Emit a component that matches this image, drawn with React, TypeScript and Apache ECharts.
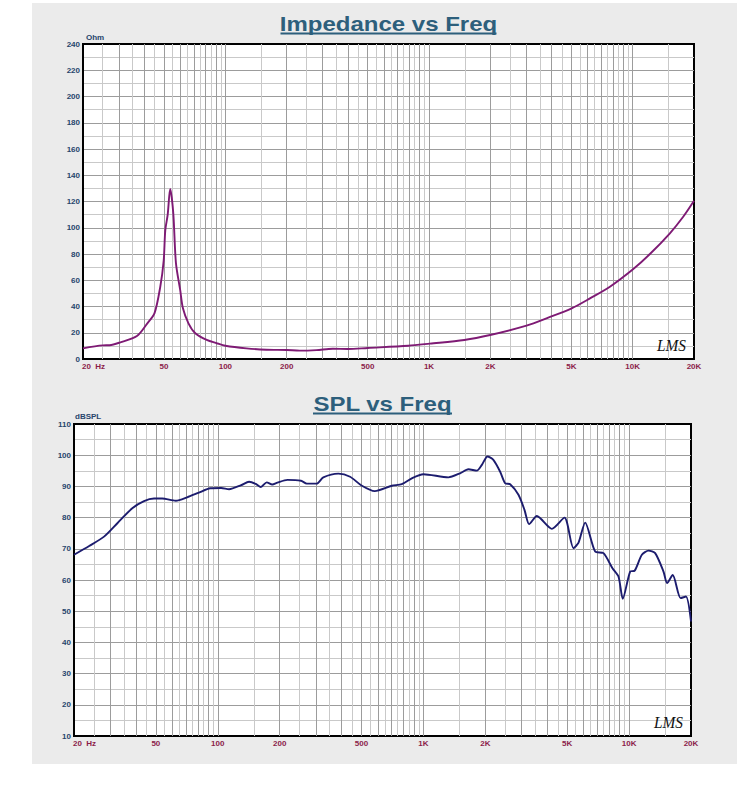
import React, { useEffect, useRef } from 'react';
import * as echarts from 'echarts';

// ---------- data ----------
const IMP_FREQ = [20, 25, 27, 30.5, 36.8, 41.3, 44.9, 47.9, 49.8, 50.7, 52.1, 53.6, 55.5, 57.2, 60, 61.9, 65.9, 71.2, 81, 90.8, 100, 127, 159, 200, 232, 280, 337, 400, 500, 792, 1008, 1490, 1995, 3010, 3850, 5015, 6170, 7730, 10070, 12150, 15230, 17700, 20000];
const IMP_OHM = [8.1, 10.4, 10.5, 12.7, 17.5, 27, 35, 55, 75, 98, 110, 129.5, 111, 73, 52.6, 38.6, 27.2, 19.6, 14.5, 12, 10.1, 8.1, 7.1, 6.9, 6.4, 6.8, 7.8, 7.6, 8.4, 10.1, 11.7, 14.5, 18.3, 25.4, 31.5, 38.6, 46.2, 55.1, 68.6, 80, 95.8, 108.4, 120.6];

const SPL_FREQ = [20, 23.7, 28, 32.5, 38.4, 43.8, 49, 53.7, 62.5, 71, 81, 92, 104, 113.5, 130, 142, 153, 162, 173, 184, 195, 218, 254, 271, 303, 326, 386, 440, 500, 580, 702, 785, 878, 1000, 1323, 1507, 1655, 1819, 1924, 2048, 2188, 2361, 2496, 2641, 2898, 3100, 3267, 3561, 4213, 4850, 5366, 5680, 6116, 6841, 7508, 8300, 8880, 9320, 10120, 10650, 11540, 12430, 13390, 14700, 15300, 16300, 17800, 18900, 20000];
const SPL_DB = [68.1, 70.9, 73.9, 78.2, 83, 85.3, 86.1, 86.1, 85.4, 86.5, 88, 89.4, 89.5, 89.1, 90.4, 91.5, 90.8, 89.8, 91.3, 90.6, 91.2, 92.1, 91.8, 90.9, 90.9, 92.9, 94.1, 93.1, 90.3, 88.5, 90.2, 90.7, 92.6, 93.9, 92.9, 94.2, 95.5, 95.05, 96.9, 99.6, 98.5, 94.7, 91, 90.7, 87.3, 82.5, 77.9, 80.5, 76.4, 80, 70.2, 72, 78.4, 69.1, 68.6, 63.8, 61.1, 54, 62.7, 63, 68.1, 69.4, 68.6, 62.7, 59, 61.6, 54.2, 54.7, 46.7];

const X_TICKS = [20, 50, 100, 200, 500, 1000, 2000, 5000, 10000, 20000];
const X_TICK_LABELS = ['20  Hz', '50', '100', '200', '500', '1K', '2K', '5K', '10K', '20K'];
const GRID_MULTIPLES = [1, 1.5, 2, 2.5, 3, 3.5, 4, 4.5, 5, 5.5, 6, 6.5, 7, 7.5, 8, 8.5, 9, 9.5];
const GRID_DECADES = [10, 100, 1000, 10000];

const TITLES = ['Impedance vs Freq', 'SPL vs Freq'];
const Y_UNITS = ['Ohm', 'dBSPL'];
const Y_RANGES = [
  { min: 0, max: 240, interval: 20 },
  { min: 10, max: 110, interval: 10 },
];

// ---------- layout / style ----------
const GRIDS = [
  { left: 83, top: 44, width: 611, height: 315 },
  { left: 74, top: 424, width: 617, height: 312 },
];
const TITLE_COLOR = '#2d5f7c';
const Y_LABEL_COLOR = '#27456b';
const X_LABEL_COLOR = '#8b1d4a';
const CURVE_COLORS = ['#7e1a74', '#1c1c6e'];
const MAJOR_GRID = '#9c9c9c';
const MINOR_GRID = '#c9c9c9';
const TITLE_WIDTHS = [216, 139];
const TITLE_MID_Y = [24.5, 404];
const UNDERLINE_Y = [33.5, 413.5];

export default function App() {
  const ref = useRef<HTMLDivElement>(null);

  useEffect(() => {
    const chart = echarts.init(ref.current!, null, { renderer: 'svg' });

    const vgrid: { f: number; major: boolean }[] = [];
    GRID_DECADES.forEach((d) => {
      GRID_MULTIPLES.forEach((m) => {
        const f = Math.round(m * d * 1000) / 1000;
        if (f > 20 && f < 20000) vgrid.push({ f, major: Number.isInteger(m) });
      });
    });

    const curves = [
      IMP_FREQ.map((f, i) => [f, IMP_OHM[i]]),
      SPL_FREQ.map((f, i) => [f, SPL_DB[i]]),
    ];

    const option: any = {
      animation: false,
      backgroundColor: '#ffffff',
      textStyle: { fontFamily: 'Liberation Sans' },
      grid: GRIDS.map((g) => ({
        ...g,
        show: true,
        backgroundColor: '#ffffff',
        borderColor: '#000',
        borderWidth: 2,
        containLabel: false,
      })),
      xAxis: GRIDS.map((_, i) => ({
        gridIndex: i,
        type: 'log',
        logBase: 10,
        min: 20,
        max: 20000,
        axisLine: { show: true, onZero: false, lineStyle: { color: '#000', width: 2 } },
        axisTick: { show: false },
        axisLabel: { show: false },
        splitLine: { show: false },
        minorSplitLine: { show: false },
      })),
      yAxis: GRIDS.map((_, i) => ({
        gridIndex: i,
        type: 'value',
        min: Y_RANGES[i].min,
        max: Y_RANGES[i].max,
        interval: Y_RANGES[i].interval,
        name: Y_UNITS[i],
        nameLocation: 'end',
        nameGap: 3,
        nameTextStyle: {
          align: 'left',
          verticalAlign: 'bottom',
          color: Y_LABEL_COLOR,
          fontSize: 8,
          fontWeight: 'bold',
          padding: [0, 0, 0, i === 0 ? 3 : 1],
        },
        axisLine: { show: true, lineStyle: { color: '#000', width: 2 } },
        axisTick: { show: false },
        axisLabel: { color: Y_LABEL_COLOR, fontSize: 8, fontWeight: 'bold', margin: 3 },
        splitLine: {
          show: true,
          showMinLine: false,
          showMaxLine: false,
          lineStyle: { color: MAJOR_GRID, width: 1 },
        },
        minorTick: { show: false, splitNumber: 2 },
        minorSplitLine: { show: true, lineStyle: { color: MINOR_GRID, width: 1 } },
      })),
      series: [
        ...GRIDS.map((_, i) => ({
          type: 'line',
          name: 'grid' + i,
          xAxisIndex: i,
          yAxisIndex: i,
          data: [],
          silent: true,
          z: 1,
          markLine: {
            silent: true,
            z: 1,
            symbol: ['none', 'none'],
            label: { show: false },
            emphasis: { disabled: true },
            data: vgrid.map((v) => ({
              xAxis: v.f,
              lineStyle: { color: v.major ? MAJOR_GRID : MINOR_GRID, width: 1, type: 'solid' },
            })),
          },
        })),
        ...GRIDS.map((_, i) => ({
          type: 'line',
          name: TITLES[i],
          xAxisIndex: i,
          yAxisIndex: i,
          data: curves[i],
          showSymbol: false,
          symbol: 'none',
          smooth: i === 0 ? 0.3 : 0.25,
          z: 10,
          lineStyle: { color: CURVE_COLORS[i], width: 1.9 },
        })),
      ],
    };

    chart.setOption(option);

    const graphics: any[] = [
      {
        type: 'rect',
        silent: true,
        z: -10,
        shape: { x: 32, y: 3, width: 705, height: 761 },
        style: { fill: '#ebebeb' },
      },
    ];

    GRIDS.forEach((_, gi) => {
      const yMin = Y_RANGES[gi].min;
      const yMax = Y_RANGES[gi].max;
      const bl = chart.convertToPixel({ gridIndex: gi } as any, [20, yMin]) as number[];
      const tr = chart.convertToPixel({ gridIndex: gi } as any, [20000, yMax]) as number[];
      const cx = (bl[0] + tr[0]) / 2;

      // title
      graphics.push({
        type: 'text',
        x: cx,
        y: TITLE_MID_Y[gi],
        scaleX: 1.2,
        silent: true,
        style: {
          text: TITLES[gi],
          fill: TITLE_COLOR,
          font: 'bold 20px "Liberation Sans", Arial, sans-serif',
          align: 'center',
          verticalAlign: 'middle',
        },
      });
      graphics.push({
        type: 'line',
        silent: true,
        shape: {
          x1: cx - TITLE_WIDTHS[gi] / 2,
          y1: UNDERLINE_Y[gi],
          x2: cx + TITLE_WIDTHS[gi] / 2,
          y2: UNDERLINE_Y[gi],
        },
        style: { stroke: TITLE_COLOR, lineWidth: 2 },
      });

      // x tick labels
      X_TICKS.forEach((f, k) => {
        const p = chart.convertToPixel({ gridIndex: gi } as any, [f, yMin]) as number[];
        graphics.push({
          type: 'text',
          x: k === 0 ? p[0] - 1 : p[0],
          y: p[1] + 7.5,
          silent: true,
          style: {
            text: X_TICK_LABELS[k],
            fill: X_LABEL_COLOR,
            font: 'bold 8px "Liberation Sans", Arial, sans-serif',
            align: k === 0 ? 'left' : 'center',
            verticalAlign: 'middle',
          },
        });
      });

      // LMS mark
      graphics.push({
        type: 'text',
        x: tr[0] - 8,
        y: bl[1] - 5,
        scaleX: 0.9,
        silent: true,
        z: 20,
        style: {
          text: 'LMS',
          fill: '#111',
          font: 'italic 17px "Liberation Serif", serif',
          align: 'right',
          verticalAlign: 'bottom',
        },
      });
    });

    chart.setOption({ graphic: graphics });

    return () => {
      chart.dispose();
    };
  }, []);

  return (
    <div
      ref={ref}
      style={{ position: 'absolute', left: 0, top: 0, width: 750, height: 793 }}
    />
  );
}
